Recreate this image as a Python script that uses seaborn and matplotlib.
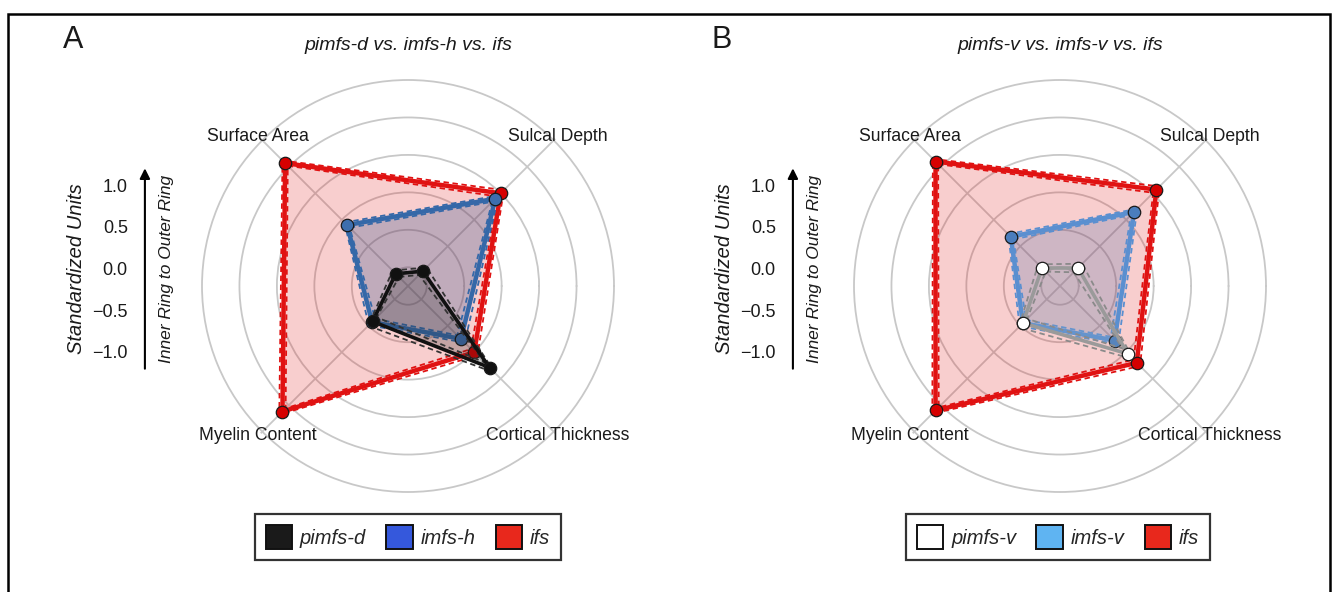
import numpy as np
import pandas as pd
import matplotlib
matplotlib.use('Agg')
import matplotlib.pyplot as plt
import seaborn as sns
from matplotlib.patches import Patch, Rectangle

# radar axes, clockwise from upper left
features = ['Surface Area', 'Sulcal Depth', 'Cortical Thickness', 'Myelin Content']
angles_deg = [135, 45, 315, 225]
rings = [-1.0, -0.5, 0.0, 0.5, 1.0, 1.5]
scale_ticks = [-1.0, -0.5, 0.0, 0.5, 1.0]

# panel A: pimfs-d vs imfs-h vs ifs (standardized units, mean and sem)
pimfs_d = [-1.02, -0.97, 0.29, -0.58]
pimfs_d_sem = [0.06, 0.07, 0.10, 0.08]
imfs_h = [-0.10, 0.40, -0.25, -0.57]
imfs_h_sem = [0.05, 0.06, 0.07, 0.06]
ifs_a = [1.07, 0.50, 0.00, 1.12]
ifs_a_sem = [0.05, 0.06, 0.06, 0.06]

# panel B: pimfs-v vs imfs-v vs ifs
pimfs_v = [-0.91, -0.91, 0.03, -0.55]
pimfs_v_sem = [0.07, 0.08, 0.10, 0.08]
imfs_v = [-0.32, 0.15, -0.22, -0.55]
imfs_v_sem = [0.05, 0.06, 0.07, 0.06]
ifs_b = [1.10, 0.57, 0.20, 1.10]
ifs_b_sem = [0.05, 0.06, 0.06, 0.06]

sns.set_theme(style='white')
plt.rcParams['font.family'] = ['Liberation Sans', 'DejaVu Sans']

W, H = 1337, 592
fig = plt.figure(figsize=(W / 100, H / 100), dpi=100)

# frame round the figure (bottom edge is cut off)
fig.patches.append(Rectangle((8 / W, -0.05), (1330 - 8) / W, 1.05 - 14 / H,
                             transform=fig.transFigure, fill=False,
                             edgecolor='black', linewidth=1.8))


def closed(vals):
    th = np.deg2rad(angles_deg + [angles_deg[0]])
    return th, np.array(list(vals) + [vals[0]])


def draw_series(ax, vals, sem, line, marker, dash, fill, fill_alpha, lw, z):
    th, r = closed(vals)
    s = np.array(list(sem) + [sem[0]])
    ax.fill(th, r, color=fill, alpha=fill_alpha, linewidth=0, zorder=z)
    for sign in (-1, 1):
        df = pd.DataFrame({'theta': th, 'r': r + sign * s})
        sns.lineplot(data=df, x='theta', y='r', ax=ax, sort=False, estimator=None,
                     color=dash, linewidth=1.3, linestyle=(0, (3, 2)), zorder=z + 0.1)
    df = pd.DataFrame({'theta': th, 'r': r})
    sns.lineplot(data=df, x='theta', y='r', ax=ax, sort=False, estimator=None,
                 color=line, linewidth=lw, zorder=z + 0.2)
    sns.scatterplot(data=df.iloc[:-1], x='theta', y='r', ax=ax, color=marker,
                    s=80, edgecolor='#1a1a1a', linewidth=0.9, zorder=z + 0.3)


def radar(cx, series):
    rmin, rmax = -1.25, 1.53
    R = 206 * (rmax - rmin) / (1.5 - rmin)
    ax = fig.add_axes([(cx - R) / W, (H - 286 - R) / H, 2 * R / W, 2 * R / H],
                      projection='polar')
    for z, args in enumerate(series):
        draw_series(ax, *args, z=3 + z)
    # seaborn autoscales the axes, so set the polar frame afterwards
    ax.set_xticks(np.deg2rad(angles_deg))
    ax.set_xticklabels([])
    ax.set_yticks(rings)
    ax.set_yticklabels([])
    ax.set_thetalim(0, 2 * np.pi)
    ax.set_ylim(rmin, rmax)
    ax.grid(True, color='#c8c8c8', linewidth=1.3)
    ax.spines['polar'].set_visible(False)
    ax.set_axisbelow(True)
    ax.set_xlabel('')
    ax.set_ylabel('')
    for name, a in zip(features, angles_deg):
        ax.text(np.deg2rad(a), 1.58, name, ha='center', va='center',
                fontsize=12.7, color='#1a1a1a', clip_on=False)
    return ax


def side_scale(x0):
    sax = fig.add_axes([x0 / W, (H - 352) / H, 30 / W, 167 / H])
    sax.set_ylim(-1.0, 1.0)
    sax.set_yticks(scale_ticks)
    sax.set_yticklabels(['\u22121.0', '\u22120.5', '0.0', '0.5', '1.0'], fontsize=13,
                        color='#1a1a1a')
    sax.set_xticks([])
    sax.tick_params(axis='y', length=0, pad=3)
    sns.despine(ax=sax, left=True, bottom=True)
    sax.patch.set_alpha(0)
    sax.set_ylabel('Standardized Units', fontsize=14.5, style='italic', color='#1a1a1a')
    sax.yaxis.set_label_coords(-1.55, 0.5)
    sax.annotate('', xy=(0.43, 1.10), xytext=(0.43, -0.10), xycoords='axes fraction',
                 arrowprops=dict(arrowstyle='-|>', color='black', lw=1.5,
                                 mutation_scale=15, shrinkA=0, shrinkB=0),
                 annotation_clip=False)
    sax.text(1.15, 0.5, 'Inner Ring to Outer Ring', transform=sax.transAxes,
             rotation=90, ha='center', va='center', fontsize=12.5, style='italic',
             color='#1a1a1a')


def legend(cx, names, colors):
    handles = [Patch(facecolor=c, edgecolor='#111111', linewidth=1.4) for c in colors]
    leg = fig.legend(handles, names, loc='center', bbox_to_anchor=(cx / W, 1 - 537 / H),
                     ncol=3, frameon=True, fancybox=False, handlelength=1.3,
                     handleheight=1.4, handletextpad=0.4, columnspacing=1.0,
                     borderpad=0.55, prop={'style': 'italic', 'size': 14.5})
    leg.get_frame().set_edgecolor('black')
    leg.get_frame().set_linewidth(1.6)


# panel A
radar(408, [
    (ifs_a, ifs_a_sem, '#e01212', '#d60000', '#e01212', '#e32222', 0.22, 3.2),
    (imfs_h, imfs_h_sem, '#3568a8', '#3d6eae', '#3568a8', '#2a4f8a', 0.27, 3.2),
    (pimfs_d, pimfs_d_sem, '#111111', '#111111', '#333333', '#222222', 0.24, 2.6),
])
side_scale(132)
legend(408, ['pimfs-d', 'imfs-h', 'ifs'], ['#1a1a1a', '#3558dc', '#e8281c'])
fig.text(408 / W, 1 - 45 / H, 'pimfs-d vs. imfs-h vs. ifs', ha='center', va='center',
         fontsize=14, style='italic', color='#1a1a1a')
fig.text(63 / W, 1 - 40 / H, 'A', ha='left', va='center', fontsize=22, color='#1a1a1a')

# panel B
radar(1060, [
    (ifs_b, ifs_b_sem, '#e01212', '#d60000', '#e01212', '#e32222', 0.22, 3.2),
    (imfs_v, imfs_v_sem, '#5a8fd0', '#4a7dbd', '#5a8fd0', '#3b63a3', 0.22, 3.2),
    (pimfs_v, pimfs_v_sem, '#9a9a9a', 'white', '#8a8a8a', '#bbbbbb', 0.12, 2.6),
])
side_scale(132 + 648)
legend(1058, ['pimfs-v', 'imfs-v', 'ifs'], ['white', '#5fb4f2', '#e8281c'])
fig.text(1060 / W, 1 - 45 / H, 'pimfs-v vs. imfs-v vs. ifs', ha='center', va='center',
         fontsize=14, style='italic', color='#1a1a1a')
fig.text(711 / W, 1 - 40 / H, 'B', ha='left', va='center', fontsize=22, color='#1a1a1a')

fig.savefig('out.png', dpi=100)
